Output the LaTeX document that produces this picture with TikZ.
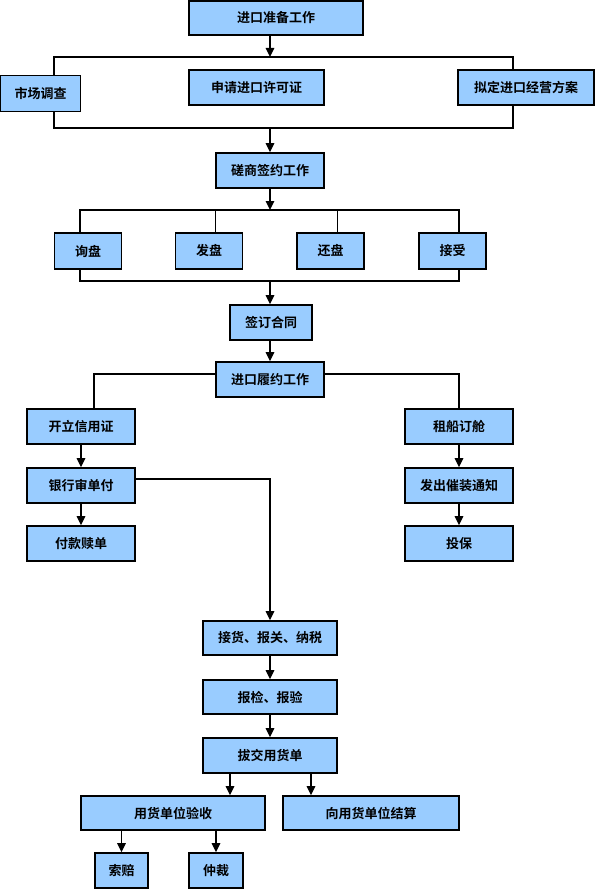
\documentclass[tikz,border=0pt]{standalone}
\usepackage{fontspec}
\usetikzlibrary{arrows.meta}
\newfontfamily\cjk{Noto Sans CJK SC}[BoldFont={Noto Sans CJK SC Bold}]
\definecolor{boxfill}{RGB}{153,204,255}
\tikzset{
  box/.style={draw=black, line width=1.6pt, fill=boxfill, inner sep=0pt,
    font=\cjk\bfseries\fontsize{13}{15}\selectfont, text=black},
  conn/.style={draw=black, line width=1.3pt},
  arr/.style={conn, -{Triangle[length=9pt,width=8.5pt]}},
}
\begin{document}
\begin{tikzpicture}[x=1pt,y=-1pt]
\fill[white] (0,0) rectangle (596,891);
\useasboundingbox (0,0) rectangle (596,891);

% column coordinates
\coordinate (m) at (270,0);
\coordinate (tl) at (54,57);
\coordinate (tr) at (513,57);
\coordinate (bl) at (54,128);
\coordinate (br) at (513,128);
\coordinate (t2l) at (80,210);
\coordinate (t2r) at (459,210);
\coordinate (b2l) at (80,281);
\coordinate (b2r) at (459,281);
\coordinate (v2) at (215,210);
\coordinate (v3) at (337,210);

% nodes
\node[box, minimum width=174pt, minimum height=34pt] (b1) at (276,18) {进口准备工作};
\node[box, minimum width=80pt, minimum height=36pt] (sc) at (40.5,93.5) {市场调查};
\node[box, minimum width=135pt, minimum height=35pt] (sq) at (256.5,87.5) {申请进口许可证};
\node[box, minimum width=136pt, minimum height=35pt] (nd) at (526,87.5) {拟定进口经营方案};
\node[box, minimum width=108pt, minimum height=35pt] (cs) at (270,170.5) {磋商签约工作};
\node[box, minimum width=67pt, minimum height=36pt] (xp) at (88,251) {询盘};
\node[box, minimum width=67pt, minimum height=36pt] (fp) at (209,251) {发盘};
\node[box, minimum width=67pt, minimum height=36pt] (hp) at (330.5,251) {还盘};
\node[box, minimum width=67pt, minimum height=36pt] (js) at (452.5,251) {接受};
\node[box, minimum width=82pt, minimum height=35pt] (qd) at (271,322.5) {签订合同};
\node[box, minimum width=108pt, minimum height=35pt] (ly) at (270,379.5) {进口履约工作};
\node[box, minimum width=108pt, minimum height=35pt] (kl) at (81,426.5) {开立信用证};
\node[box, minimum width=108pt, minimum height=35pt] (yh) at (81,485.5) {银行审单付};
\node[box, minimum width=108pt, minimum height=35pt] (fk) at (81,543.5) {付款赎单};
\node[box, minimum width=108pt, minimum height=35pt] (zc) at (459,426.5) {租船订舱};
\node[box, minimum width=108pt, minimum height=35pt] (fc) at (459,485.5) {发出催装通知};
\node[box, minimum width=108pt, minimum height=35pt] (tb) at (459,543.5) {投保};
\node[box, minimum width=134pt, minimum height=34pt] (jh) at (270,638) {接货、报关、纳税};
\node[box, minimum width=134pt, minimum height=34pt] (bj) at (270,697) {报检、报验};
\node[box, minimum width=134pt, minimum height=35pt] (bo) at (270,755.5) {拔交用货单};
\node[box, minimum width=184pt, minimum height=34pt] (ys) at (173,813) {用货单位验收};
\node[box, minimum width=176pt, minimum height=34pt] (jsu) at (371,813) {向用货单位结算};
\node[box, minimum width=53pt, minimum height=35pt] (sp) at (121.5,870.5) {索赔};
\node[box, minimum width=54pt, minimum height=35pt] (zj) at (216,870.5) {仲裁};

% top bracket
\draw[arr] (b1.south -| m) -- (m |- tl);
\draw[conn] (sc.north -| tl) -- (tl) -- (tr) -- (nd.north -| tr);
\draw[conn] (sc.south -| bl) -- (bl) -- (br) -- (nd.south -| br);
\draw[arr] (m |- bl) -- (cs.north);

% second bracket
\draw[arr] (cs.south) -- (m |- t2l);
\draw[conn] (xp.north -| t2l) -- (t2l) -- (t2r) -- (js.north -| t2r);
\draw[conn, line width=0.9pt] (v2) -- (fp.north -| v2);
\draw[conn, line width=0.9pt] (v3) -- (hp.north -| v3);
\draw[conn] (xp.south -| b2l) -- (b2l) -- (b2r) -- (js.south -| b2r);
\draw[arr] (m |- b2l) -- (qd.north -| m);
\draw[arr] (qd.south -| m) -- (ly.north);

% contract execution
\draw[conn] ([yshift=5.5pt]ly.west) -| ([xshift=13pt]kl.north);
\draw[conn] ([yshift=5.5pt]ly.east) -| (zc.north);
\draw[arr] (kl.south) -- (yh.north);
\draw[arr] (yh.south) -- (fk.north);
\draw[arr] (zc.south) -- (fc.north);
\draw[arr] (fc.south) -- (tb.north);
\draw[arr] ([yshift=6.5pt]yh.east) -| (jh.north);
\draw[arr] (jh.south) -- (bj.north);
\draw[arr] (bj.south) -- (bo.north);
\draw[arr] ([xshift=-40pt]bo.south) -- ([xshift=-40pt]bo.south |- ys.north);
\draw[arr] ([xshift=41pt]bo.south) -- ([xshift=41pt]bo.south |- jsu.north);
\draw[arr] (sp.north |- ys.south) -- (sp.north);
\draw[arr] (zj.north |- ys.south) -- (zj.north);
\end{tikzpicture}
\end{document}
